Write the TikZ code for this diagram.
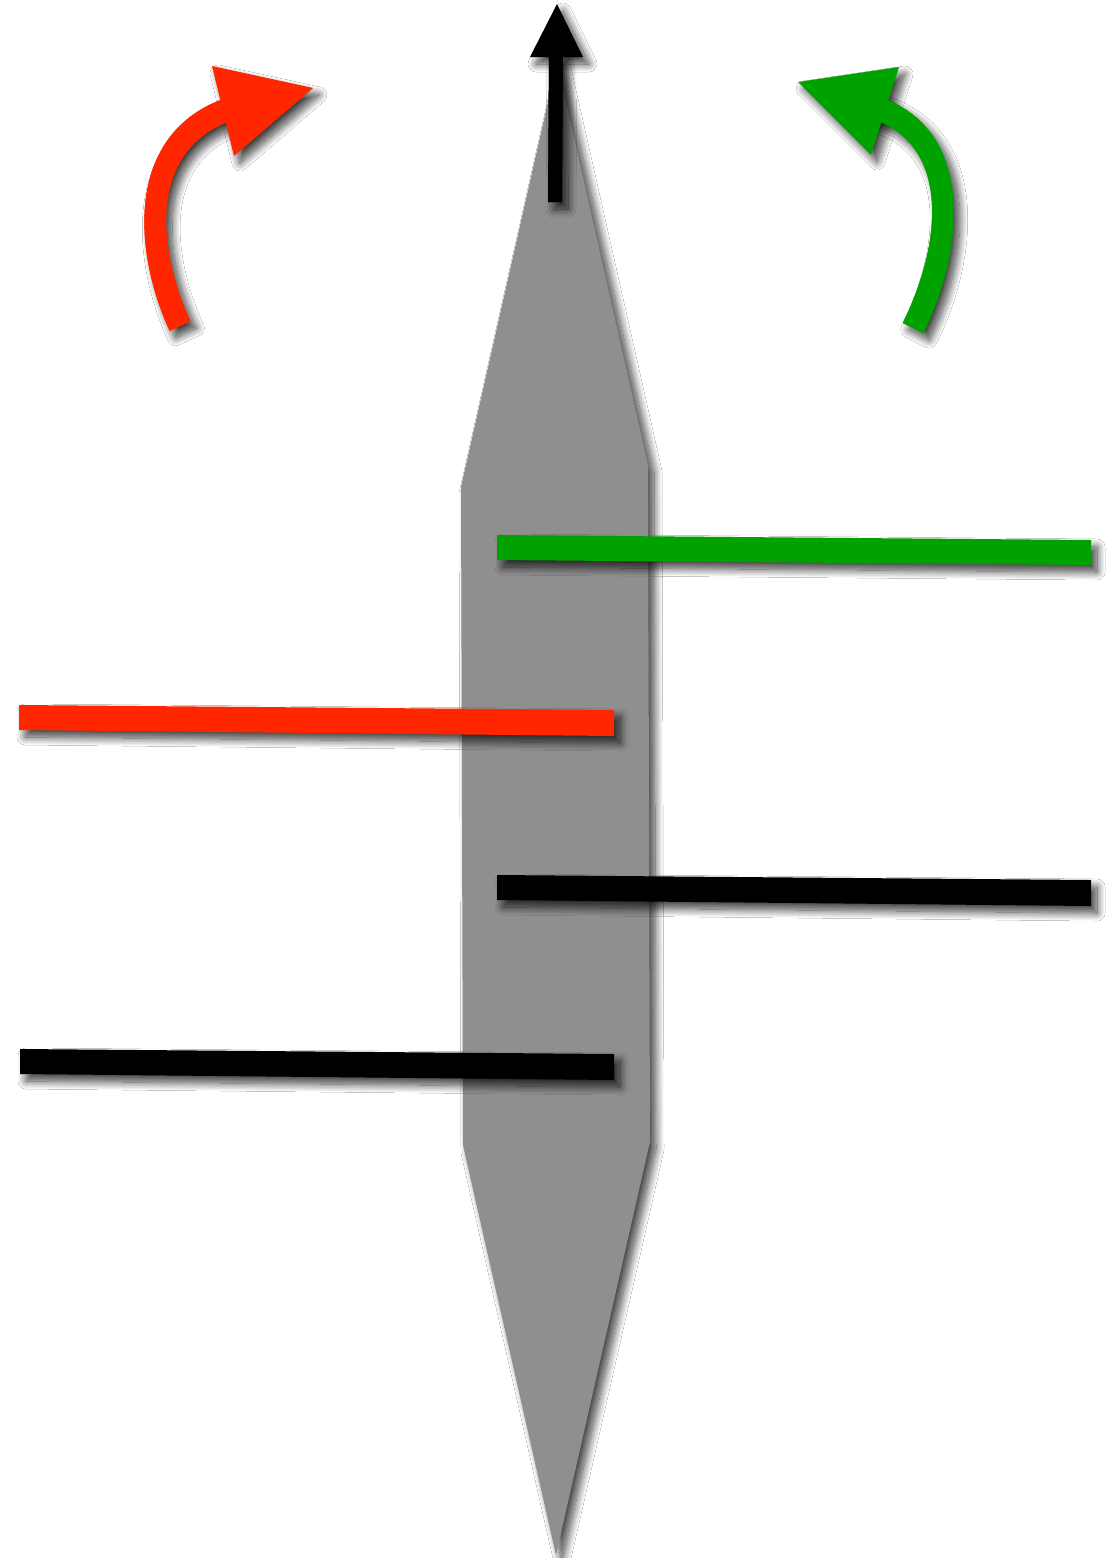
\documentclass[tikz,border=0pt]{standalone}
\usetikzlibrary{shadows.blur}
\definecolor{myred}{RGB}{255,38,0}
\definecolor{mygreen}{RGB}{0,162,0}
\definecolor{mygray}{RGB}{143,143,143}
\tikzset{
  softshadow/.style={blur shadow={shadow xshift=6pt, shadow yshift=-7pt, shadow blur radius=8pt, shadow blur steps=16, shadow opacity=75}},
}
\begin{document}
\begin{tikzpicture}[x=1pt,y=-1pt]
\fill[white] (0,0) rectangle (1115,1558);
\useasboundingbox (0,0) rectangle (1115,1558);
% central gray blade
\path[fill=mygray, softshadow] (557,62) -- (648,465) -- (650,1142) -- (556,1555) -- (463,1145) -- (461,487) -- cycle;
% black up arrow
\path[fill=black, softshadow] (548,202) -- (562,202) -- (563,52) -- (549,52) -- cycle;
\path[fill=black, softshadow] (557,4) -- (583,57) -- (530,57) -- cycle;
\path[fill=black] (548,202) -- (562,202) -- (563,52) -- (549,52) -- cycle;
% red curved arrow
\path[fill=myred, softshadow] (190.4,321.2) .. controls (156.3,247.1) and (147.3,148.0) .. (235.6,118.9) -- (228.4,97.1) .. controls (122.7,132.0) and (133.7,252.8) .. (169.6,330.8) -- cycle;
\path[fill=myred, softshadow] (212,66) -- (313,88) -- (234,156) -- cycle;
\path[fill=myred] (190.4,321.2) .. controls (156.3,247.1) and (147.3,148.0) .. (235.6,118.9) -- (228.4,97.1) .. controls (122.7,132.0) and (133.7,252.8) .. (169.6,330.8) -- cycle;
% green curved arrow
\path[fill=mygreen, softshadow] (923.3,333.1) .. controls (963.2,253.3) and (977.5,130.1) .. (879.7,97.1) -- (872.3,118.9) .. controls (952.5,145.9) and (940.8,246.7) .. (902.7,322.9) -- cycle;
\path[fill=mygreen, softshadow] (798,82) -- (899,67) -- (871,155) -- cycle;
\path[fill=mygreen] (923.3,333.1) .. controls (963.2,253.3) and (977.5,130.1) .. (879.7,97.1) -- (872.3,118.9) .. controls (952.5,145.9) and (940.8,246.7) .. (902.7,322.9) -- cycle;
% bars
\path[fill=mygreen, softshadow] (497,535) -- (1091,540) -- (1091,565) -- (497,560) -- cycle;
\path[fill=myred, softshadow] (19,705) -- (614,710) -- (614,736) -- (19,730) -- cycle;
\path[fill=black, softshadow] (497,875) -- (1091,880) -- (1091,906) -- (497,900) -- cycle;
\path[fill=black, softshadow] (20,1049) -- (614,1054) -- (614,1080) -- (20,1074) -- cycle;
\end{tikzpicture}
\end{document}
